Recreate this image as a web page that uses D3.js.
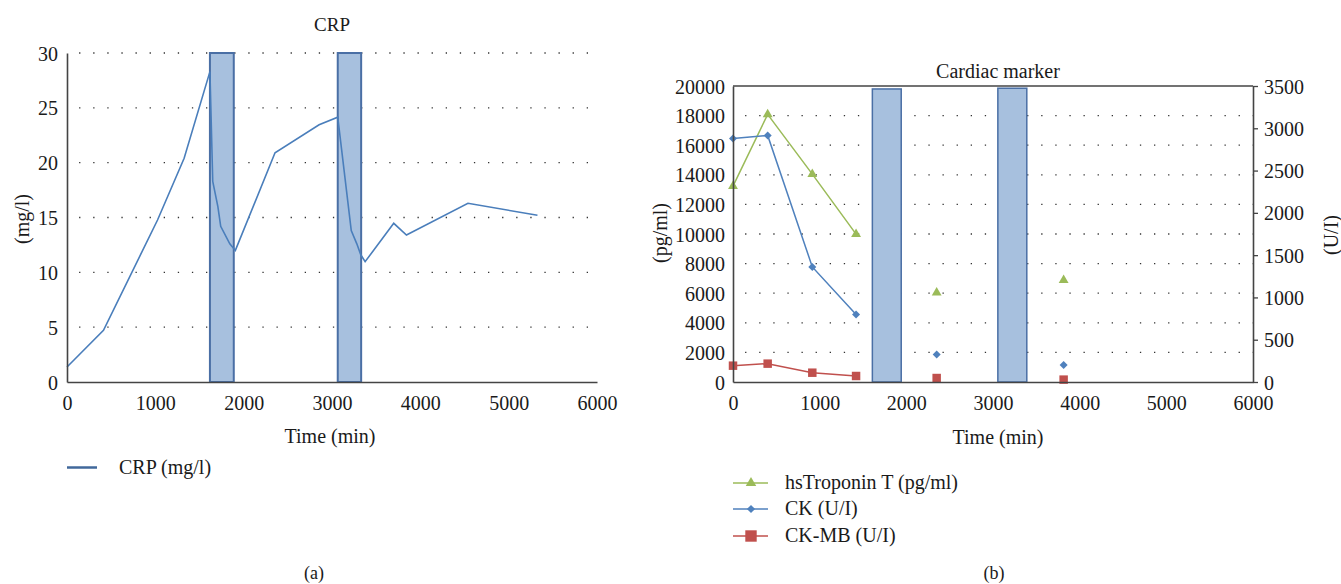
<!DOCTYPE html>
<html>
<head>
<meta charset="utf-8">
<script src="https://cdn.jsdelivr.net/npm/d3@7"></script>
<style>
  html, body { margin: 0; padding: 0; background: #fff; }
  svg { display: block; }
  svg text { font-family: 'Liberation Serif', 'Times New Roman', Times, 'DejaVu Serif', serif !important; fill: #1a1a1a; }
</style>
</head>
<body>
<svg id="fig" width="1341" height="584" font-family="'Liberation Serif', 'Times New Roman', serif"></svg>
<script>
// ---------- Data ----------
// Panel (a): CRP
const crpTime  = [0, 413, 1025, 1326, 1618, 1650, 1708, 1740, 1843, 1906, 2355, 2854, 3065, 3218, 3281, 3326, 3375, 3699, 3843, 4539, 5326];
const crpValue = [1.37, 4.72, 14.77, 20.4, 28.3, 18.3, 16.0, 14.2, 12.6, 12.0, 20.9, 23.45, 24.15, 13.8, 12.6, 11.6, 10.97, 14.47, 13.4, 16.3, 15.2];
const crpBarStart = [1618, 3065];
const crpBarEnd   = [1888, 3330];
const crpBarValue = [30, 30];
const crpYTicks = [0, 5, 10, 15, 20, 25, 30];
const xTicks = [0, 1000, 2000, 3000, 4000, 5000, 6000];

// Panel (b): cardiac markers
const markerTime = [0, 400, 915, 1420, 2350, 3815];
const connected  = [true, true, true, true, false, false];
const tropValue  = [13236, 18083, 14047, 9989, 6043, 6877];   // pg/ml (left axis)
const ckValue    = [2880, 2916, 1361, 797, 324, 201];          // U/I (right axis)
const ckmbValue  = [193, 217, 110, 71, 47, 28];                // U/I (right axis)
const cardBarStart = [1608, 3056];
const cardBarEnd   = [1941, 3390];
const cardBarValue = [19800, 19850];
const leftTicksB  = [0, 2000, 4000, 6000, 8000, 10000, 12000, 14000, 16000, 18000, 20000];
const rightTicksB = [0, 500, 1000, 1500, 2000, 2500, 3000, 3500];
const legendB = ["hsTroponin T (pg/ml)", "CK (U/I)", "CK-MB (U/I)"];

// ---------- Styles ----------
const FONT = "'Liberation Serif', 'Times New Roman', Times, 'DejaVu Serif', serif";
const axisColor = "#444";
const gridColor = "#333";
const barFill = "#a7c0de";
const barStroke = "#4a6fa5";
const crpColor = "#4a7ebb";
const green = "#9bbb59", blue = "#4f81bd", red = "#c0504d";

const svg = d3.select("#fig");

function dottedGrid(g, x0, x1, yPos) {
  g.append("line")
    .attr("x1", x0).attr("x2", x1).attr("y1", yPos).attr("y2", yPos)
    .attr("stroke", gridColor).attr("stroke-width", 1.3)
    .attr("stroke-dasharray", "1.3 12.8").attr("stroke-dashoffset", 2);
}
function styleAxis(a) {
  a.attr("font-family", FONT).attr("font-size", 20);
  a.select(".domain").attr("stroke", axisColor).attr("stroke-width", 1.6);
  a.selectAll(".tick line").attr("stroke", axisColor).attr("stroke-width", 1.3);
  a.selectAll("text").attr("fill", "#1a1a1a");
}

// ================= Panel (a) =================
{
  const x = d3.scaleLinear().domain([0, 6000]).range([67, 597]);
  const y = d3.scaleLinear().domain([0, 30]).range([382, 53]);
  const g = svg.append("g");

  crpYTicks.filter(t => t > 0).forEach(t => dottedGrid(g, 67, 597, y(t)));

  g.selectAll("rect.bar").data(crpBarStart).join("rect")
    .attr("x", d => x(d)).attr("width", (d, i) => x(crpBarEnd[i]) - x(d))
    .attr("y", (d, i) => y(crpBarValue[i])).attr("height", (d, i) => y(0) - y(crpBarValue[i]))
    .attr("fill", barFill).attr("stroke", barStroke).attr("stroke-width", 2);

  const pts = crpTime.map((t, i) => [t, crpValue[i]]);
  g.append("path").datum(pts)
    .attr("d", d3.line().x(d => x(d[0])).y(d => y(d[1])))
    .attr("fill", "none").attr("stroke", crpColor).attr("stroke-width", 1.6);

  const ax = d3.axisBottom(x).tickValues(xTicks).tickSize(0).tickPadding(10).tickFormat(d3.format("d"));
  const gx = g.append("g").attr("transform", `translate(0,${y(0)})`).call(ax);
  const ay = d3.axisLeft(y).tickValues(crpYTicks).tickSize(0).tickPadding(9);
  const gy = g.append("g").attr("transform", `translate(${x(0)},0)`).call(ay);
  [gx, gy].forEach(styleAxis);
  gx.selectAll("text").attr("dy", "0.9em");
  gy.selectAll("text").attr("dy", "0.35em");

  g.append("text").attr("x", 332).attr("y", 31).attr("text-anchor", "middle")
    .attr("font-size", 19).text("CRP");
  g.append("text").attr("x", 330).attr("y", 443).attr("text-anchor", "middle")
    .attr("font-size", 20).text("Time (min)");
  g.append("text").attr("transform", "translate(29,219) rotate(-90)").attr("text-anchor", "middle")
    .attr("font-size", 20).text("(mg/l)");

  g.append("line").attr("x1", 67).attr("x2", 97).attr("y1", 467.5).attr("y2", 467.5)
    .attr("stroke", "#41689b").attr("stroke-width", 2.5);
  g.append("text").attr("x", 119).attr("y", 474).attr("font-size", 20).text("CRP (mg/l)");

  g.append("text").attr("x", 314).attr("y", 579).attr("text-anchor", "middle")
    .attr("font-size", 18).text("(a)");
}

// ================= Panel (b) =================
{
  const x = d3.scaleLinear().domain([0, 6000]).range([733, 1253]);
  const yL = d3.scaleLinear().domain([0, 20000]).range([382, 86]);
  const yR = d3.scaleLinear().domain([0, 3500]).range([382, 86]);
  const g = svg.append("g");

  leftTicksB.filter(t => t > 0 && t < 20000).forEach(t => dottedGrid(g, 733, 1253, yL(t)));

  g.selectAll("rect.bar").data(cardBarStart).join("rect")
    .attr("x", d => x(d)).attr("width", (d, i) => x(cardBarEnd[i]) - x(d))
    .attr("y", (d, i) => yL(cardBarValue[i])).attr("height", (d, i) => yL(0) - yL(cardBarValue[i]))
    .attr("fill", barFill).attr("stroke", barStroke).attr("stroke-width", 1.5);

  const series = [
    { name: legendB[0], values: tropValue, scale: yL, color: green, sym: "tri" },
    { name: legendB[1], values: ckValue,   scale: yR, color: blue,  sym: "dia" },
    { name: legendB[2], values: ckmbValue, scale: yR, color: red,   sym: "sq" }
  ];

  function symPath(type, big) {
    if (type === "tri") return d3.symbol(d3.symbolTriangle, big ? 48 : 42)();
    if (type === "dia") return d3.symbol(d3.symbolSquare, big ? 34 : 32)();
    return d3.symbol(d3.symbolSquare, big ? 130 : 72)();
  }
  function symRot(type) { return type === "dia" ? " rotate(45)" : ""; }

  series.forEach(s => {
    const pts = markerTime.map((t, i) => ({ t, v: s.values[i], c: connected[i] }));
    g.append("path").datum(pts)
      .attr("d", d3.line().defined(d => d.c).x(d => x(d.t)).y(d => s.scale(d.v)))
      .attr("fill", "none").attr("stroke", s.color).attr("stroke-width", 1.5);
    g.selectAll(null).data(pts).join("path")
      .attr("d", symPath(s.sym, false))
      .attr("transform", d => `translate(${x(d.t)},${s.scale(d.v)})${symRot(s.sym)}`)
      .attr("fill", s.color);
  });

  g.append("line").attr("x1", 733).attr("x2", 1253).attr("y1", yL(20000)).attr("y2", yL(20000))
    .attr("stroke", axisColor).attr("stroke-width", 1.5);

  const ax = d3.axisBottom(x).tickValues(xTicks).tickSize(0).tickPadding(10).tickFormat(d3.format("d"));
  const gx = g.append("g").attr("transform", `translate(0,${yL(0)})`).call(ax);
  const ayl = d3.axisLeft(yL).tickValues(leftTicksB).tickSize(0).tickPadding(8).tickFormat(d3.format("d"));
  const gyl = g.append("g").attr("transform", `translate(${x(0)},0)`).call(ayl);
  const ayr = d3.axisRight(yR).tickValues(rightTicksB).tickSizeInner(5).tickSizeOuter(0).tickPadding(6).tickFormat(d3.format("d"));
  const gyr = g.append("g").attr("transform", `translate(${x(6000)},0)`).call(ayr);
  [gx, gyl, gyr].forEach(styleAxis);
  gx.selectAll("text").attr("dy", "0.9em");
  gyl.selectAll("text").attr("dy", "0.35em");
  gyr.selectAll("text").attr("dy", "0.35em");

  g.append("text").attr("x", 998).attr("y", 78).attr("text-anchor", "middle")
    .attr("font-size", 20).text("Cardiac marker");
  g.append("text").attr("x", 998).attr("y", 444).attr("text-anchor", "middle")
    .attr("font-size", 20).text("Time (min)");
  g.append("text").attr("transform", "translate(667,233) rotate(-90)").attr("text-anchor", "middle")
    .attr("font-size", 20).text("(pg/ml)");
  g.append("text").attr("transform", "translate(1338,235) rotate(-90)").attr("text-anchor", "middle")
    .attr("font-size", 20).text("(U/I)");

  const rowY = [483, 509, 536];
  series.forEach((s, i) => {
    g.append("line").attr("x1", 733).attr("x2", 768).attr("y1", rowY[i]).attr("y2", rowY[i])
      .attr("stroke", s.color).attr("stroke-width", 1.5);
    g.append("path").attr("d", symPath(s.sym, true))
      .attr("transform", `translate(751,${rowY[i]})${symRot(s.sym)}`).attr("fill", s.color);
    g.append("text").attr("x", 785).attr("y", rowY[i] + 6).attr("font-size", 20).text(s.name);
  });

  g.append("text").attr("x", 994).attr("y", 579).attr("text-anchor", "middle")
    .attr("font-size", 18).text("(b)");
}
</script>
</body>
</html>
